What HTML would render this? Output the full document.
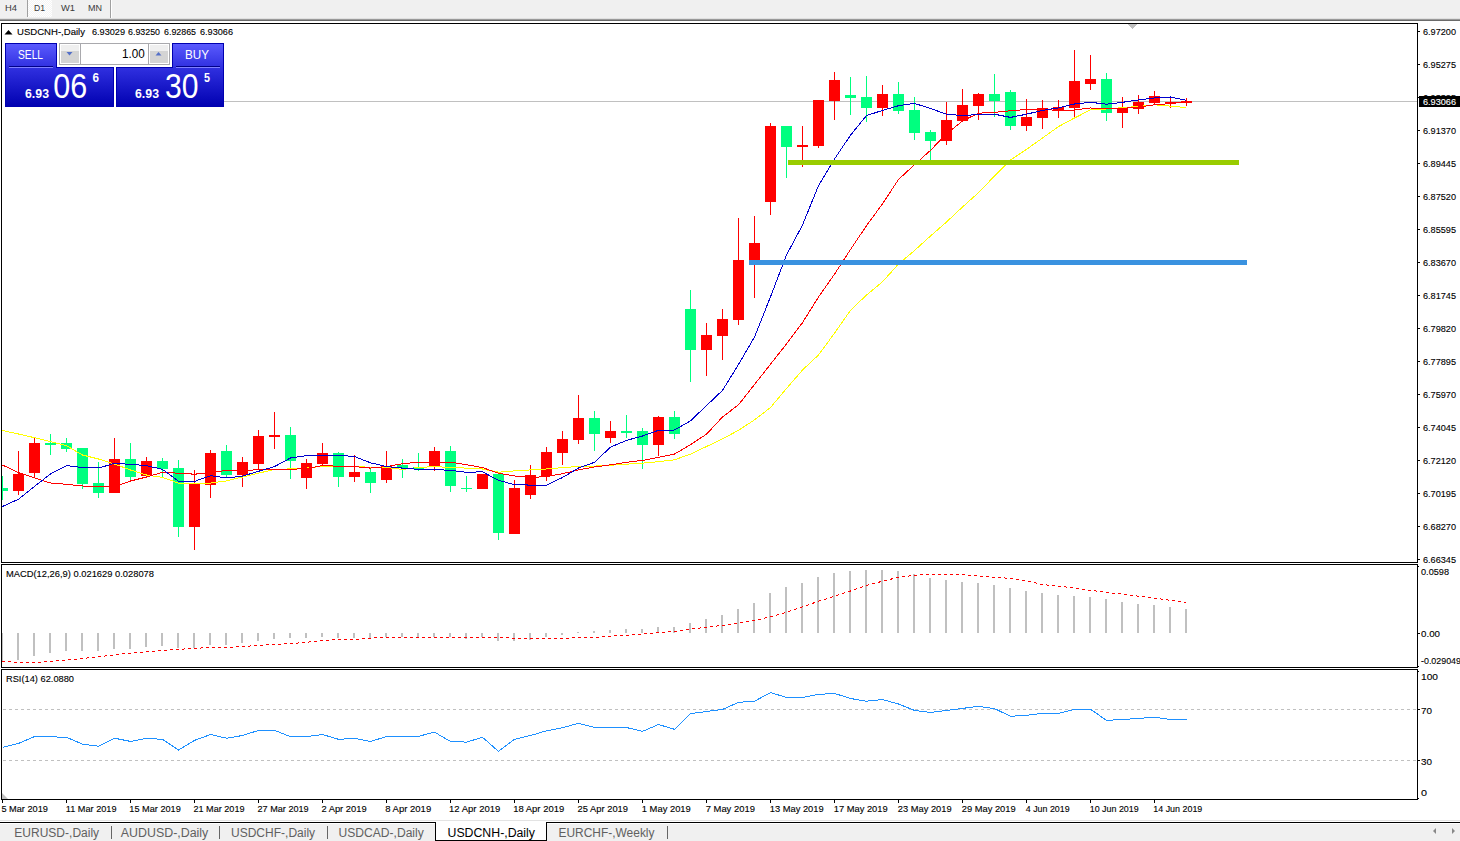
<!DOCTYPE html><html><head><meta charset="utf-8"><style>html,body{margin:0;padding:0;background:#fff;overflow:hidden;width:1460px;height:841px}svg{display:block}text{font-family:"Liberation Sans", sans-serif;white-space:pre}</style></head><body>
<svg width="1460" height="841" viewBox="0 0 1460 841">
<defs><pattern id="dots" width="2" height="2" patternUnits="userSpaceOnUse"><rect width="2" height="2" fill="#f4f4f4"/><rect width="1" height="1" fill="#ffffff"/><rect x="1" y="1" width="1" height="1" fill="#ffffff"/></pattern><linearGradient id="bg" x1="0" y1="43" x2="0" y2="107" gradientUnits="userSpaceOnUse"><stop offset="0" stop-color="#5c5cff"/><stop offset="0.38" stop-color="#3030e0"/><stop offset="1" stop-color="#0000b0"/></linearGradient><linearGradient id="btn" x1="0" y1="0" x2="0" y2="1"><stop offset="0" stop-color="#f4f4f4"/><stop offset="0.45" stop-color="#e6e6e6"/><stop offset="0.5" stop-color="#d8d8d8"/><stop offset="1" stop-color="#cdcdcd"/></linearGradient></defs>
<rect x="0" y="0" width="1460" height="841" fill="#fff"/>
<g shape-rendering="crispEdges">
<rect x="0" y="0" width="1460" height="19" fill="#f0f0f0"/>
<rect x="28" y="0" width="24" height="17" fill="url(#dots)"/>
<rect x="27" y="0" width="1" height="17" fill="#a0a0a0"/>
<rect x="110" y="0" width="1" height="18" fill="#a0a0a0"/><rect x="111" y="0" width="1" height="18" fill="#ffffff"/>
<rect x="0" y="18" width="1460" height="1" fill="#e0e0e0"/>
<rect x="0" y="19" width="1460" height="1" fill="#999999"/>
<rect x="0" y="20" width="1460" height="1" fill="#6a6a6a"/>
</g>
<text x="5" y="11" font-size="9.7" fill="#3a3a3a" font-weight="normal" text-anchor="start" textLength="12" lengthAdjust="spacingAndGlyphs">H4</text>
<text x="34" y="11" font-size="9.7" fill="#3a3a3a" font-weight="normal" text-anchor="start" textLength="11" lengthAdjust="spacingAndGlyphs">D1</text>
<text x="61" y="11" font-size="9.7" fill="#3a3a3a" font-weight="normal" text-anchor="start" textLength="14" lengthAdjust="spacingAndGlyphs">W1</text>
<text x="88" y="11" font-size="9.7" fill="#3a3a3a" font-weight="normal" text-anchor="start" textLength="14" lengthAdjust="spacingAndGlyphs">MN</text>
<g shape-rendering="crispEdges" fill="#000">
<rect x="1" y="23" width="1417" height="1"/>
<rect x="1" y="562" width="1417" height="1"/>
<rect x="1" y="23" width="1" height="540"/>
<rect x="1417" y="23" width="1" height="540"/>
<rect x="1" y="564" width="1417" height="1"/>
<rect x="1" y="667" width="1417" height="1"/>
<rect x="1" y="564" width="1" height="104"/>
<rect x="1417" y="564" width="1" height="104"/>
<rect x="1" y="669" width="1417" height="1"/>
<rect x="1" y="799" width="1417" height="1"/>
<rect x="1" y="669" width="1" height="131"/>
<rect x="1417" y="669" width="1" height="131"/>
</g>
<g shape-rendering="crispEdges">
<rect x="224" y="101" width="1193" height="1" fill="#c0c0c0"/>
<polygon points="1127.5,24 1137.5,24 1132.5,29" fill="#c0c0c0"/>
<rect x="2" y="476" width="1" height="24" fill="#00ff7f"/>
<rect x="2" y="488" width="6" height="3" fill="#00ff7f"/>
<rect x="18" y="451" width="1" height="44" fill="#ff0000"/>
<rect x="13" y="474" width="11" height="17" fill="#ff0000"/>
<rect x="34" y="438" width="1" height="40" fill="#ff0000"/>
<rect x="29" y="443" width="11" height="30" fill="#ff0000"/>
<rect x="50" y="434" width="1" height="21" fill="#00ff7f"/>
<rect x="45" y="443" width="11" height="2" fill="#00ff7f"/>
<rect x="66" y="438" width="1" height="14" fill="#00ff7f"/>
<rect x="61" y="443" width="11" height="6" fill="#00ff7f"/>
<rect x="82" y="448" width="1" height="41" fill="#00ff7f"/>
<rect x="77" y="448" width="11" height="36" fill="#00ff7f"/>
<rect x="98" y="462" width="1" height="36" fill="#00ff7f"/>
<rect x="93" y="483" width="11" height="10" fill="#00ff7f"/>
<rect x="114" y="438" width="1" height="55" fill="#ff0000"/>
<rect x="109" y="459" width="11" height="34" fill="#ff0000"/>
<rect x="130" y="443" width="1" height="38" fill="#00ff7f"/>
<rect x="125" y="459" width="11" height="18" fill="#00ff7f"/>
<rect x="146" y="457" width="1" height="20" fill="#ff0000"/>
<rect x="141" y="461" width="11" height="15" fill="#ff0000"/>
<rect x="162" y="458" width="1" height="20" fill="#00ff7f"/>
<rect x="157" y="461" width="11" height="8" fill="#00ff7f"/>
<rect x="178" y="460" width="1" height="77" fill="#00ff7f"/>
<rect x="173" y="468" width="11" height="59" fill="#00ff7f"/>
<rect x="194" y="470" width="1" height="80" fill="#ff0000"/>
<rect x="189" y="484" width="11" height="43" fill="#ff0000"/>
<rect x="210" y="450" width="1" height="48" fill="#ff0000"/>
<rect x="205" y="453" width="11" height="32" fill="#ff0000"/>
<rect x="226" y="445" width="1" height="33" fill="#00ff7f"/>
<rect x="221" y="451" width="11" height="24" fill="#00ff7f"/>
<rect x="242" y="457" width="1" height="30" fill="#ff0000"/>
<rect x="237" y="462" width="11" height="13" fill="#ff0000"/>
<rect x="258" y="430" width="1" height="40" fill="#ff0000"/>
<rect x="253" y="436" width="11" height="28" fill="#ff0000"/>
<rect x="274" y="412" width="1" height="37" fill="#ff0000"/>
<rect x="269" y="435" width="11" height="2" fill="#ff0000"/>
<rect x="290" y="427" width="1" height="52" fill="#00ff7f"/>
<rect x="285" y="435" width="11" height="26" fill="#00ff7f"/>
<rect x="306" y="459" width="1" height="30" fill="#ff0000"/>
<rect x="301" y="463" width="11" height="15" fill="#ff0000"/>
<rect x="322" y="443" width="1" height="23" fill="#ff0000"/>
<rect x="317" y="453" width="11" height="11" fill="#ff0000"/>
<rect x="338" y="452" width="1" height="35" fill="#00ff7f"/>
<rect x="333" y="453" width="11" height="24" fill="#00ff7f"/>
<rect x="354" y="455" width="1" height="27" fill="#ff0000"/>
<rect x="349" y="472" width="11" height="5" fill="#ff0000"/>
<rect x="370" y="469" width="1" height="24" fill="#00ff7f"/>
<rect x="365" y="472" width="11" height="11" fill="#00ff7f"/>
<rect x="386" y="451" width="1" height="32" fill="#ff0000"/>
<rect x="381" y="466" width="11" height="14" fill="#ff0000"/>
<rect x="402" y="459" width="1" height="19" fill="#00ff7f"/>
<rect x="397" y="465" width="11" height="3" fill="#00ff7f"/>
<rect x="418" y="453" width="1" height="18" fill="#00ff7f"/>
<rect x="413" y="467" width="11" height="2" fill="#00ff7f"/>
<rect x="434" y="447" width="1" height="24" fill="#ff0000"/>
<rect x="429" y="451" width="11" height="16" fill="#ff0000"/>
<rect x="450" y="446" width="1" height="46" fill="#00ff7f"/>
<rect x="445" y="451" width="11" height="35" fill="#00ff7f"/>
<rect x="466" y="476" width="1" height="16" fill="#00ff7f"/>
<rect x="461" y="488" width="11" height="1" fill="#00ff7f"/>
<rect x="482" y="474" width="1" height="15" fill="#ff0000"/>
<rect x="477" y="474" width="11" height="15" fill="#ff0000"/>
<rect x="498" y="474" width="1" height="66" fill="#00ff7f"/>
<rect x="493" y="474" width="11" height="59" fill="#00ff7f"/>
<rect x="514" y="480" width="1" height="54" fill="#ff0000"/>
<rect x="509" y="488" width="11" height="46" fill="#ff0000"/>
<rect x="530" y="465" width="1" height="34" fill="#ff0000"/>
<rect x="525" y="475" width="11" height="20" fill="#ff0000"/>
<rect x="546" y="447" width="1" height="34" fill="#ff0000"/>
<rect x="541" y="452" width="11" height="24" fill="#ff0000"/>
<rect x="562" y="431" width="1" height="34" fill="#ff0000"/>
<rect x="557" y="439" width="11" height="14" fill="#ff0000"/>
<rect x="578" y="395" width="1" height="49" fill="#ff0000"/>
<rect x="573" y="418" width="11" height="22" fill="#ff0000"/>
<rect x="594" y="411" width="1" height="40" fill="#00ff7f"/>
<rect x="589" y="418" width="11" height="16" fill="#00ff7f"/>
<rect x="610" y="421" width="1" height="22" fill="#ff0000"/>
<rect x="605" y="431" width="11" height="7" fill="#ff0000"/>
<rect x="626" y="415" width="1" height="23" fill="#00ff7f"/>
<rect x="621" y="431" width="11" height="2" fill="#00ff7f"/>
<rect x="642" y="428" width="1" height="41" fill="#00ff7f"/>
<rect x="637" y="431" width="11" height="14" fill="#00ff7f"/>
<rect x="658" y="416" width="1" height="40" fill="#ff0000"/>
<rect x="653" y="417" width="11" height="28" fill="#ff0000"/>
<rect x="674" y="411" width="1" height="28" fill="#00ff7f"/>
<rect x="669" y="417" width="11" height="17" fill="#00ff7f"/>
<rect x="690" y="290" width="1" height="92" fill="#00ff7f"/>
<rect x="685" y="309" width="11" height="41" fill="#00ff7f"/>
<rect x="706" y="323" width="1" height="53" fill="#ff0000"/>
<rect x="701" y="335" width="11" height="15" fill="#ff0000"/>
<rect x="722" y="309" width="1" height="51" fill="#ff0000"/>
<rect x="717" y="319" width="11" height="17" fill="#ff0000"/>
<rect x="738" y="218" width="1" height="107" fill="#ff0000"/>
<rect x="733" y="260" width="11" height="60" fill="#ff0000"/>
<rect x="754" y="216" width="1" height="82" fill="#ff0000"/>
<rect x="749" y="243" width="11" height="17" fill="#ff0000"/>
<rect x="770" y="123" width="1" height="92" fill="#ff0000"/>
<rect x="765" y="126" width="11" height="76" fill="#ff0000"/>
<rect x="786" y="126" width="1" height="52" fill="#00ff7f"/>
<rect x="781" y="126" width="11" height="21" fill="#00ff7f"/>
<rect x="802" y="126" width="1" height="41" fill="#ff0000"/>
<rect x="797" y="145" width="11" height="2" fill="#ff0000"/>
<rect x="818" y="100" width="1" height="48" fill="#ff0000"/>
<rect x="813" y="100" width="11" height="46" fill="#ff0000"/>
<rect x="834" y="72" width="1" height="48" fill="#ff0000"/>
<rect x="829" y="80" width="11" height="21" fill="#ff0000"/>
<rect x="850" y="77" width="1" height="38" fill="#00ff7f"/>
<rect x="845" y="95" width="11" height="3" fill="#00ff7f"/>
<rect x="866" y="76" width="1" height="46" fill="#00ff7f"/>
<rect x="861" y="97" width="11" height="11" fill="#00ff7f"/>
<rect x="882" y="85" width="1" height="31" fill="#ff0000"/>
<rect x="877" y="94" width="11" height="14" fill="#ff0000"/>
<rect x="898" y="82" width="1" height="32" fill="#00ff7f"/>
<rect x="893" y="94" width="11" height="17" fill="#00ff7f"/>
<rect x="914" y="97" width="1" height="43" fill="#00ff7f"/>
<rect x="909" y="110" width="11" height="23" fill="#00ff7f"/>
<rect x="930" y="130" width="1" height="30" fill="#00ff7f"/>
<rect x="925" y="132" width="11" height="9" fill="#00ff7f"/>
<rect x="946" y="102" width="1" height="43" fill="#ff0000"/>
<rect x="941" y="120" width="11" height="21" fill="#ff0000"/>
<rect x="962" y="89" width="1" height="32" fill="#ff0000"/>
<rect x="957" y="105" width="11" height="16" fill="#ff0000"/>
<rect x="978" y="93" width="1" height="27" fill="#ff0000"/>
<rect x="973" y="94" width="11" height="12" fill="#ff0000"/>
<rect x="994" y="74" width="1" height="43" fill="#00ff7f"/>
<rect x="989" y="94" width="11" height="7" fill="#00ff7f"/>
<rect x="1010" y="90" width="1" height="40" fill="#00ff7f"/>
<rect x="1005" y="92" width="11" height="34" fill="#00ff7f"/>
<rect x="1026" y="99" width="1" height="32" fill="#ff0000"/>
<rect x="1021" y="117" width="11" height="9" fill="#ff0000"/>
<rect x="1042" y="100" width="1" height="29" fill="#ff0000"/>
<rect x="1037" y="108" width="11" height="10" fill="#ff0000"/>
<rect x="1058" y="100" width="1" height="18" fill="#ff0000"/>
<rect x="1053" y="107" width="11" height="4" fill="#ff0000"/>
<rect x="1074" y="50" width="1" height="68" fill="#ff0000"/>
<rect x="1069" y="81" width="11" height="27" fill="#ff0000"/>
<rect x="1090" y="55" width="1" height="35" fill="#ff0000"/>
<rect x="1085" y="79" width="11" height="5" fill="#ff0000"/>
<rect x="1106" y="73" width="1" height="48" fill="#00ff7f"/>
<rect x="1101" y="79" width="11" height="34" fill="#00ff7f"/>
<rect x="1122" y="97" width="1" height="31" fill="#ff0000"/>
<rect x="1117" y="108" width="11" height="5" fill="#ff0000"/>
<rect x="1138" y="95" width="1" height="19" fill="#ff0000"/>
<rect x="1133" y="102" width="11" height="7" fill="#ff0000"/>
<rect x="1154" y="91" width="1" height="14" fill="#ff0000"/>
<rect x="1149" y="96" width="11" height="7" fill="#ff0000"/>
<rect x="1170" y="97" width="1" height="11" fill="#ff0000"/>
<rect x="1165" y="102" width="11" height="1" fill="#ff0000"/>
<rect x="1186" y="98" width="1" height="8" fill="#ff0000"/>
<rect x="1181" y="101" width="11" height="2" fill="#ff0000"/>
</g>
<svg x="2" y="24" width="1415" height="538" viewBox="2 24 1415 538" overflow="hidden">
<polyline points="2.5,430.5 18.5,434 34.5,437.7 50.5,441.6 66.5,445.7 82.5,455 98.5,459 114.5,464 130.5,470 146.5,475 162.5,477.4 178.5,483.1 194.5,483.1 210.5,483.1 226.5,480.9 242.5,477 258.5,473.2 274.5,469.4 290.5,468.9 306.5,468.1 322.5,466.2 338.5,466 354.5,466 370.5,467.5 386.5,467.5 402.5,469.4 418.5,467.5 434.5,466.6 450.5,467.5 466.5,468.1 482.5,469 498.5,472.2 514.5,470.9 530.5,469.9 546.5,469 562.5,467.6 578.5,466.5 594.5,466.1 610.5,465.2 626.5,464.2 642.5,463.1 658.5,461.7 674.5,459.8 690.5,454.1 706.5,446.5 722.5,438.9 738.5,430.3 754.5,419.9 770.5,407.5 786.5,388.5 802.5,370 818.5,355 834.5,333.2 850.5,310.3 866.5,295 882.5,281.8 898.5,264 914.5,250.5 930.5,236 946.5,222 962.5,207 978.5,192.7 994.5,176 1010.5,160 1026.5,149.4 1042.5,138 1058.5,126.6 1074.5,118 1090.5,109.9 1106.5,109 1122.5,107.6 1138.5,106.5 1154.5,104.8 1170.5,106.1 1186.5,107.6" fill="none" stroke="#ffff00" stroke-width="1" shape-rendering="crispEdges"/>
<polyline points="2.5,465 18.5,472.7 34.5,477.9 50.5,483 66.5,484.3 82.5,486 98.5,487 114.5,486.6 130.5,481 146.5,477 162.5,472.3 178.5,473.2 194.5,474.2 210.5,472.7 226.5,470.4 242.5,470.4 258.5,469.8 274.5,469.4 290.5,469.4 306.5,468.5 322.5,465.6 338.5,466.2 354.5,466.6 370.5,468.1 386.5,466.6 402.5,463.7 418.5,462.2 434.5,462.2 450.5,462.2 466.5,464.7 482.5,467.6 498.5,473.3 514.5,476 530.5,477.5 546.5,476.6 562.5,473.7 578.5,469.9 594.5,467 610.5,464.8 626.5,462.3 642.5,460.4 658.5,457.4 674.5,454.1 690.5,444.6 706.5,434.2 722.5,417 738.5,404.8 754.5,384.5 770.5,364.2 786.5,343.9 802.5,322.7 818.5,297 834.5,274.2 850.5,249.5 866.5,225.7 882.5,203.8 898.5,179.5 914.5,164.7 930.5,150.3 946.5,134 962.5,120.9 978.5,113.2 994.5,112.3 1010.5,110.8 1026.5,109.4 1042.5,108.9 1058.5,110.8 1074.5,110 1090.5,108 1106.5,109 1122.5,108.4 1138.5,107 1154.5,104.8 1170.5,103.6 1186.5,101.9" fill="none" stroke="#ff0000" stroke-width="1" shape-rendering="crispEdges"/>
<polyline points="2.5,506.5 18.5,499.2 34.5,486.4 50.5,474 66.5,465.6 82.5,467.5 98.5,468 114.5,463.4 130.5,464.3 146.5,465.6 162.5,469.4 178.5,481.2 194.5,481.4 210.5,475.7 226.5,478 242.5,476.1 258.5,471.3 274.5,466.6 290.5,458 306.5,455.6 322.5,455.6 338.5,455.2 354.5,456.5 370.5,462.8 386.5,466.6 402.5,468.1 418.5,469.4 434.5,469.4 450.5,470.4 466.5,472.3 482.5,471.8 498.5,480.4 514.5,484.6 530.5,485.1 546.5,485.1 562.5,477.5 578.5,468 594.5,462.3 610.5,447.1 626.5,440.4 642.5,436 658.5,430.3 674.5,430 690.5,420.8 706.5,405.6 722.5,390.4 738.5,364.5 754.5,337 770.5,296.8 786.5,255 802.5,225 818.5,185.6 834.5,159 850.5,135.2 866.5,115.6 882.5,110.4 898.5,105.7 914.5,103.4 930.5,108.5 946.5,114.2 962.5,115.5 978.5,114.6 994.5,114.2 1010.5,117.4 1026.5,114.2 1042.5,110.4 1058.5,107.9 1074.5,104 1090.5,102.3 1106.5,104.2 1122.5,102.3 1138.5,100 1154.5,97.9 1170.5,97 1186.5,100.4" fill="none" stroke="#0000cd" stroke-width="1" shape-rendering="crispEdges"/>
</svg>
<g shape-rendering="crispEdges">
<rect x="788" y="160" width="451" height="5" fill="#99cc00"/>
<rect x="749" y="260" width="498" height="5" fill="#3a92e0"/>
</g>
<polygon points="4.5,34.5 12.5,34.5 8.5,30" fill="#000"/>
<text x="17" y="35" font-size="9.8" fill="#000" font-weight="normal" text-anchor="start" textLength="68" lengthAdjust="spacingAndGlyphs" stroke="#000" stroke-width="0.12">USDCNH-,Daily</text>
<text x="92" y="35" font-size="9.6" fill="#000" font-weight="normal" text-anchor="start" textLength="33" lengthAdjust="spacingAndGlyphs" stroke="#000" stroke-width="0.12">6.93029</text>
<text x="128" y="35" font-size="9.6" fill="#000" font-weight="normal" text-anchor="start" textLength="32" lengthAdjust="spacingAndGlyphs" stroke="#000" stroke-width="0.12">6.93250</text>
<text x="164" y="35" font-size="9.6" fill="#000" font-weight="normal" text-anchor="start" textLength="32" lengthAdjust="spacingAndGlyphs" stroke="#000" stroke-width="0.12">6.92865</text>
<text x="200" y="35" font-size="9.6" fill="#000" font-weight="normal" text-anchor="start" textLength="33" lengthAdjust="spacingAndGlyphs" stroke="#000" stroke-width="0.12">6.93066</text>
<g shape-rendering="crispEdges">
<rect x="5" y="43" width="52" height="24" fill="#0000b0"/><rect x="5" y="67" width="109" height="40" fill="#0000b0"/>
<rect x="6" y="44" width="50" height="24" fill="url(#bg)"/><rect x="6" y="68" width="107" height="38" fill="url(#bg)"/>
<rect x="172" y="43" width="52" height="24" fill="#0000b0"/><rect x="116" y="67" width="108" height="40" fill="#0000b0"/>
<rect x="173" y="44" width="50" height="24" fill="url(#bg)"/><rect x="117" y="68" width="106" height="38" fill="url(#bg)"/>
<rect x="9" y="66" width="44" height="1" fill="#000088"/><rect x="9" y="67" width="44" height="1" fill="#8080ff"/>
<rect x="176" y="66" width="44" height="1" fill="#000088"/><rect x="176" y="67" width="44" height="1" fill="#8080ff"/>
<rect x="59" y="43" width="111" height="22" fill="#a9a9ad"/>
<rect x="60" y="44" width="109" height="20" fill="#ffffff"/>
<rect x="80" y="44" width="1" height="20" fill="#a9a9ad"/><rect x="148" y="44" width="1" height="20" fill="#a9a9ad"/>
<rect x="61" y="45" width="18" height="6" fill="#efefef"/><rect x="61" y="51" width="18" height="12" fill="#d4d4d4"/>
<rect x="150" y="45" width="18" height="6" fill="#efefef"/><rect x="150" y="51" width="18" height="12" fill="#d4d4d4"/>
</g>
<polygon points="66.5,52 72.5,52 69.5,55.5" fill="#5470c8"/>
<polygon points="155.5,55.5 161.5,55.5 158.5,52" fill="#5470c8"/>
<text x="122" y="58" font-size="12" fill="#000" font-weight="normal" text-anchor="start" textLength="22.7" lengthAdjust="spacingAndGlyphs">1.00</text>
<text x="18" y="59" font-size="12" fill="#fff" font-weight="normal" text-anchor="start" textLength="25" lengthAdjust="spacingAndGlyphs">SELL</text>
<text x="185" y="59" font-size="12" fill="#fff" font-weight="normal" text-anchor="start" textLength="24" lengthAdjust="spacingAndGlyphs">BUY</text>
<text x="25" y="98" font-size="12" fill="#fff" font-weight="bold" text-anchor="start" textLength="24" lengthAdjust="spacingAndGlyphs">6.93</text>
<text x="53.3" y="98.3" font-size="34.8" fill="#fff" font-weight="normal" text-anchor="start" textLength="34" lengthAdjust="spacingAndGlyphs">06</text>
<text x="92.5" y="82" font-size="12" fill="#fff" font-weight="bold" text-anchor="start" textLength="6.5" lengthAdjust="spacingAndGlyphs">6</text>
<text x="135" y="98" font-size="12" fill="#fff" font-weight="bold" text-anchor="start" textLength="24" lengthAdjust="spacingAndGlyphs">6.93</text>
<text x="165" y="98.3" font-size="34.8" fill="#fff" font-weight="normal" text-anchor="start" textLength="33.5" lengthAdjust="spacingAndGlyphs">30</text>
<text x="204" y="82" font-size="12" fill="#fff" font-weight="bold" text-anchor="start" textLength="6" lengthAdjust="spacingAndGlyphs">5</text>
<g shape-rendering="crispEdges" fill="#000">
<rect x="1418" y="31" width="2" height="1"/>
<rect x="1418" y="64" width="2" height="1"/>
<rect x="1418" y="97" width="2" height="1"/>
<rect x="1418" y="130" width="2" height="1"/>
<rect x="1418" y="163" width="2" height="1"/>
<rect x="1418" y="196" width="2" height="1"/>
<rect x="1418" y="229" width="2" height="1"/>
<rect x="1418" y="262" width="2" height="1"/>
<rect x="1418" y="295" width="2" height="1"/>
<rect x="1418" y="328" width="2" height="1"/>
<rect x="1418" y="361" width="2" height="1"/>
<rect x="1418" y="394" width="2" height="1"/>
<rect x="1418" y="427" width="2" height="1"/>
<rect x="1418" y="460" width="2" height="1"/>
<rect x="1418" y="493" width="2" height="1"/>
<rect x="1418" y="526" width="2" height="1"/>
<rect x="1418" y="559" width="2" height="1"/>
</g>
<text x="1423" y="34.5" font-size="9.6" fill="#000" font-weight="normal" text-anchor="start" textLength="33" lengthAdjust="spacingAndGlyphs" stroke="#000" stroke-width="0.12">6.97200</text>
<text x="1423" y="67.5" font-size="9.6" fill="#000" font-weight="normal" text-anchor="start" textLength="33" lengthAdjust="spacingAndGlyphs" stroke="#000" stroke-width="0.12">6.95275</text>
<text x="1423" y="100.5" font-size="9.6" fill="#000" font-weight="normal" text-anchor="start" textLength="33" lengthAdjust="spacingAndGlyphs" stroke="#000" stroke-width="0.12">6.93325</text>
<text x="1423" y="133.5" font-size="9.6" fill="#000" font-weight="normal" text-anchor="start" textLength="33" lengthAdjust="spacingAndGlyphs" stroke="#000" stroke-width="0.12">6.91370</text>
<text x="1423" y="166.5" font-size="9.6" fill="#000" font-weight="normal" text-anchor="start" textLength="33" lengthAdjust="spacingAndGlyphs" stroke="#000" stroke-width="0.12">6.89445</text>
<text x="1423" y="199.5" font-size="9.6" fill="#000" font-weight="normal" text-anchor="start" textLength="33" lengthAdjust="spacingAndGlyphs" stroke="#000" stroke-width="0.12">6.87520</text>
<text x="1423" y="232.5" font-size="9.6" fill="#000" font-weight="normal" text-anchor="start" textLength="33" lengthAdjust="spacingAndGlyphs" stroke="#000" stroke-width="0.12">6.85595</text>
<text x="1423" y="265.5" font-size="9.6" fill="#000" font-weight="normal" text-anchor="start" textLength="33" lengthAdjust="spacingAndGlyphs" stroke="#000" stroke-width="0.12">6.83670</text>
<text x="1423" y="298.5" font-size="9.6" fill="#000" font-weight="normal" text-anchor="start" textLength="33" lengthAdjust="spacingAndGlyphs" stroke="#000" stroke-width="0.12">6.81745</text>
<text x="1423" y="331.5" font-size="9.6" fill="#000" font-weight="normal" text-anchor="start" textLength="33" lengthAdjust="spacingAndGlyphs" stroke="#000" stroke-width="0.12">6.79820</text>
<text x="1423" y="364.5" font-size="9.6" fill="#000" font-weight="normal" text-anchor="start" textLength="33" lengthAdjust="spacingAndGlyphs" stroke="#000" stroke-width="0.12">6.77895</text>
<text x="1423" y="397.5" font-size="9.6" fill="#000" font-weight="normal" text-anchor="start" textLength="33" lengthAdjust="spacingAndGlyphs" stroke="#000" stroke-width="0.12">6.75970</text>
<text x="1423" y="430.5" font-size="9.6" fill="#000" font-weight="normal" text-anchor="start" textLength="33" lengthAdjust="spacingAndGlyphs" stroke="#000" stroke-width="0.12">6.74045</text>
<text x="1423" y="463.5" font-size="9.6" fill="#000" font-weight="normal" text-anchor="start" textLength="33" lengthAdjust="spacingAndGlyphs" stroke="#000" stroke-width="0.12">6.72120</text>
<text x="1423" y="496.5" font-size="9.6" fill="#000" font-weight="normal" text-anchor="start" textLength="33" lengthAdjust="spacingAndGlyphs" stroke="#000" stroke-width="0.12">6.70195</text>
<text x="1423" y="529.5" font-size="9.6" fill="#000" font-weight="normal" text-anchor="start" textLength="33" lengthAdjust="spacingAndGlyphs" stroke="#000" stroke-width="0.12">6.68270</text>
<text x="1423" y="562.5" font-size="9.6" fill="#000" font-weight="normal" text-anchor="start" textLength="33" lengthAdjust="spacingAndGlyphs" stroke="#000" stroke-width="0.12">6.66345</text>
<rect x="1419" y="96" width="41" height="11" fill="#000" shape-rendering="crispEdges"/>
<text x="1423" y="105" font-size="9.6" fill="#fff" font-weight="normal" text-anchor="start" textLength="33" lengthAdjust="spacingAndGlyphs" stroke="#fff" stroke-width="0.12">6.93066</text>
<text x="6" y="577" font-size="9.6" fill="#000" font-weight="normal" text-anchor="start" textLength="148" lengthAdjust="spacingAndGlyphs" stroke="#000" stroke-width="0.12">MACD(12,26,9) 0.021629 0.028078</text>
<svg x="2" y="565" width="1415" height="102" viewBox="2 565 1415 102" overflow="hidden">
<g shape-rendering="crispEdges" fill="#c0c0c0">
<rect x="1" y="633" width="2" height="28"/>
<rect x="17" y="633" width="2" height="27"/>
<rect x="33" y="633" width="2" height="23"/>
<rect x="49" y="633" width="2" height="20"/>
<rect x="65" y="633" width="2" height="18"/>
<rect x="81" y="633" width="2" height="18"/>
<rect x="97" y="633" width="2" height="18"/>
<rect x="113" y="633" width="2" height="16"/>
<rect x="129" y="633" width="2" height="16"/>
<rect x="145" y="633" width="2" height="14"/>
<rect x="161" y="633" width="2" height="13"/>
<rect x="177" y="633" width="2" height="15"/>
<rect x="193" y="633" width="2" height="15"/>
<rect x="209" y="633" width="2" height="12"/>
<rect x="225" y="633" width="2" height="12"/>
<rect x="241" y="633" width="2" height="10"/>
<rect x="257" y="633" width="2" height="8"/>
<rect x="273" y="633" width="2" height="6"/>
<rect x="289" y="633" width="2" height="5"/>
<rect x="305" y="633" width="2" height="5"/>
<rect x="321" y="633" width="2" height="4"/>
<rect x="337" y="633" width="2" height="5"/>
<rect x="353" y="633" width="2" height="5"/>
<rect x="369" y="633" width="2" height="5"/>
<rect x="385" y="633" width="2" height="4"/>
<rect x="401" y="633" width="2" height="4"/>
<rect x="417" y="633" width="2" height="4"/>
<rect x="433" y="633" width="2" height="4"/>
<rect x="449" y="633" width="2" height="4"/>
<rect x="465" y="633" width="2" height="6"/>
<rect x="481" y="633" width="2" height="4"/>
<rect x="497" y="633" width="2" height="8"/>
<rect x="513" y="633" width="2" height="8"/>
<rect x="529" y="633" width="2" height="7"/>
<rect x="545" y="633" width="2" height="4"/>
<rect x="561" y="633" width="2" height="2"/>
<rect x="577" y="632" width="2" height="1"/>
<rect x="593" y="631" width="2" height="2"/>
<rect x="609" y="630" width="2" height="3"/>
<rect x="625" y="629" width="2" height="4"/>
<rect x="641" y="629" width="2" height="4"/>
<rect x="657" y="627" width="2" height="6"/>
<rect x="673" y="627" width="2" height="6"/>
<rect x="689" y="623" width="2" height="10"/>
<rect x="705" y="619" width="2" height="14"/>
<rect x="721" y="615" width="2" height="18"/>
<rect x="737" y="609" width="2" height="24"/>
<rect x="753" y="603" width="2" height="30"/>
<rect x="769" y="593" width="2" height="40"/>
<rect x="785" y="587" width="2" height="46"/>
<rect x="801" y="583" width="2" height="50"/>
<rect x="817" y="577" width="2" height="56"/>
<rect x="833" y="573" width="2" height="60"/>
<rect x="849" y="571" width="2" height="62"/>
<rect x="865" y="570" width="2" height="63"/>
<rect x="881" y="570" width="2" height="63"/>
<rect x="897" y="571" width="2" height="62"/>
<rect x="913" y="574" width="2" height="59"/>
<rect x="929" y="578" width="2" height="55"/>
<rect x="945" y="580" width="2" height="53"/>
<rect x="961" y="582" width="2" height="51"/>
<rect x="977" y="583" width="2" height="50"/>
<rect x="993" y="585" width="2" height="48"/>
<rect x="1009" y="588" width="2" height="45"/>
<rect x="1025" y="591" width="2" height="42"/>
<rect x="1041" y="593" width="2" height="40"/>
<rect x="1057" y="595" width="2" height="38"/>
<rect x="1073" y="596" width="2" height="37"/>
<rect x="1089" y="597" width="2" height="36"/>
<rect x="1105" y="599" width="2" height="34"/>
<rect x="1121" y="602" width="2" height="31"/>
<rect x="1137" y="604" width="2" height="29"/>
<rect x="1153" y="605" width="2" height="28"/>
<rect x="1169" y="607" width="2" height="26"/>
<rect x="1185" y="609" width="2" height="24"/>
</g>
<defs><pattern id="dash6" x="2" y="0" width="6" height="841" patternUnits="userSpaceOnUse"><rect x="0" y="0" width="3" height="841" fill="#fff"/></pattern><mask id="dmask" maskUnits="userSpaceOnUse" x="0" y="0" width="1460" height="841"><rect x="0" y="0" width="1460" height="841" fill="url(#dash6)"/></mask></defs>
<polyline points="2.5,661.4 18.5,662.3 34.5,662.3 50.5,661.6 66.5,659.9 82.5,658.5 98.5,656.8 114.5,654.8 130.5,653.2 146.5,651.8 162.5,650.4 178.5,649.3 194.5,648.4 210.5,647.4 226.5,647.4 242.5,646.7 258.5,645.3 274.5,644.4 290.5,643.6 306.5,642.3 322.5,640.5 338.5,639.5 354.5,639.5 370.5,638.2 386.5,637.4 402.5,637.4 418.5,637.4 434.5,637.4 450.5,637.4 466.5,637.4 482.5,637.4 498.5,637.4 514.5,638.2 530.5,638.2 546.5,638.2 562.5,638.2 578.5,637.8 594.5,637.3 610.5,636.2 626.5,635.3 642.5,634.2 658.5,632.4 674.5,631.4 690.5,629 706.5,627.3 722.5,625.3 738.5,623.2 754.5,620.5 770.5,616.8 786.5,612.3 802.5,606.8 818.5,601.3 834.5,596.2 850.5,591 866.5,585.5 882.5,581.2 898.5,577.3 914.5,575.3 930.5,574.3 946.5,574.3 962.5,574.6 978.5,576.2 994.5,577.3 1010.5,578.4 1026.5,580.8 1042.5,584.5 1058.5,586.2 1074.5,588 1090.5,590.3 1106.5,592.4 1122.5,594.2 1138.5,596.2 1154.5,598.2 1170.5,600.3 1186.5,602.3" fill="none" stroke="#ff0000" stroke-width="1" shape-rendering="crispEdges" mask="url(#dmask)"/>
</svg>
<g shape-rendering="crispEdges" fill="#000"><rect x="1418" y="566" width="1" height="1"/><rect x="1418" y="633" width="2" height="1"/><rect x="1418" y="666" width="1" height="1"/></g>
<text x="1421" y="575" font-size="9.6" fill="#000" font-weight="normal" text-anchor="start" textLength="28" lengthAdjust="spacingAndGlyphs" stroke="#000" stroke-width="0.12">0.0598</text>
<text x="1421" y="637" font-size="9.6" fill="#000" font-weight="normal" text-anchor="start" textLength="19" lengthAdjust="spacingAndGlyphs" stroke="#000" stroke-width="0.12">0.00</text>
<text x="1421" y="664" font-size="9.6" fill="#000" font-weight="normal" text-anchor="start" textLength="40" lengthAdjust="spacingAndGlyphs" stroke="#000" stroke-width="0.12">-0.029049</text>
<text x="6" y="682" font-size="9.6" fill="#000" font-weight="normal" text-anchor="start" textLength="68" lengthAdjust="spacingAndGlyphs" stroke="#000" stroke-width="0.12">RSI(14) 62.0880</text>
<g shape-rendering="crispEdges" fill="#c0c0c0">
<rect x="3" y="709" width="3" height="1"/>
<rect x="9" y="709" width="3" height="1"/>
<rect x="15" y="709" width="3" height="1"/>
<rect x="21" y="709" width="3" height="1"/>
<rect x="27" y="709" width="3" height="1"/>
<rect x="33" y="709" width="3" height="1"/>
<rect x="39" y="709" width="3" height="1"/>
<rect x="45" y="709" width="3" height="1"/>
<rect x="51" y="709" width="3" height="1"/>
<rect x="57" y="709" width="3" height="1"/>
<rect x="63" y="709" width="3" height="1"/>
<rect x="69" y="709" width="3" height="1"/>
<rect x="75" y="709" width="3" height="1"/>
<rect x="81" y="709" width="3" height="1"/>
<rect x="87" y="709" width="3" height="1"/>
<rect x="93" y="709" width="3" height="1"/>
<rect x="99" y="709" width="3" height="1"/>
<rect x="105" y="709" width="3" height="1"/>
<rect x="111" y="709" width="3" height="1"/>
<rect x="117" y="709" width="3" height="1"/>
<rect x="123" y="709" width="3" height="1"/>
<rect x="129" y="709" width="3" height="1"/>
<rect x="135" y="709" width="3" height="1"/>
<rect x="141" y="709" width="3" height="1"/>
<rect x="147" y="709" width="3" height="1"/>
<rect x="153" y="709" width="3" height="1"/>
<rect x="159" y="709" width="3" height="1"/>
<rect x="165" y="709" width="3" height="1"/>
<rect x="171" y="709" width="3" height="1"/>
<rect x="177" y="709" width="3" height="1"/>
<rect x="183" y="709" width="3" height="1"/>
<rect x="189" y="709" width="3" height="1"/>
<rect x="195" y="709" width="3" height="1"/>
<rect x="201" y="709" width="3" height="1"/>
<rect x="207" y="709" width="3" height="1"/>
<rect x="213" y="709" width="3" height="1"/>
<rect x="219" y="709" width="3" height="1"/>
<rect x="225" y="709" width="3" height="1"/>
<rect x="231" y="709" width="3" height="1"/>
<rect x="237" y="709" width="3" height="1"/>
<rect x="243" y="709" width="3" height="1"/>
<rect x="249" y="709" width="3" height="1"/>
<rect x="255" y="709" width="3" height="1"/>
<rect x="261" y="709" width="3" height="1"/>
<rect x="267" y="709" width="3" height="1"/>
<rect x="273" y="709" width="3" height="1"/>
<rect x="279" y="709" width="3" height="1"/>
<rect x="285" y="709" width="3" height="1"/>
<rect x="291" y="709" width="3" height="1"/>
<rect x="297" y="709" width="3" height="1"/>
<rect x="303" y="709" width="3" height="1"/>
<rect x="309" y="709" width="3" height="1"/>
<rect x="315" y="709" width="3" height="1"/>
<rect x="321" y="709" width="3" height="1"/>
<rect x="327" y="709" width="3" height="1"/>
<rect x="333" y="709" width="3" height="1"/>
<rect x="339" y="709" width="3" height="1"/>
<rect x="345" y="709" width="3" height="1"/>
<rect x="351" y="709" width="3" height="1"/>
<rect x="357" y="709" width="3" height="1"/>
<rect x="363" y="709" width="3" height="1"/>
<rect x="369" y="709" width="3" height="1"/>
<rect x="375" y="709" width="3" height="1"/>
<rect x="381" y="709" width="3" height="1"/>
<rect x="387" y="709" width="3" height="1"/>
<rect x="393" y="709" width="3" height="1"/>
<rect x="399" y="709" width="3" height="1"/>
<rect x="405" y="709" width="3" height="1"/>
<rect x="411" y="709" width="3" height="1"/>
<rect x="417" y="709" width="3" height="1"/>
<rect x="423" y="709" width="3" height="1"/>
<rect x="429" y="709" width="3" height="1"/>
<rect x="435" y="709" width="3" height="1"/>
<rect x="441" y="709" width="3" height="1"/>
<rect x="447" y="709" width="3" height="1"/>
<rect x="453" y="709" width="3" height="1"/>
<rect x="459" y="709" width="3" height="1"/>
<rect x="465" y="709" width="3" height="1"/>
<rect x="471" y="709" width="3" height="1"/>
<rect x="477" y="709" width="3" height="1"/>
<rect x="483" y="709" width="3" height="1"/>
<rect x="489" y="709" width="3" height="1"/>
<rect x="495" y="709" width="3" height="1"/>
<rect x="501" y="709" width="3" height="1"/>
<rect x="507" y="709" width="3" height="1"/>
<rect x="513" y="709" width="3" height="1"/>
<rect x="519" y="709" width="3" height="1"/>
<rect x="525" y="709" width="3" height="1"/>
<rect x="531" y="709" width="3" height="1"/>
<rect x="537" y="709" width="3" height="1"/>
<rect x="543" y="709" width="3" height="1"/>
<rect x="549" y="709" width="3" height="1"/>
<rect x="555" y="709" width="3" height="1"/>
<rect x="561" y="709" width="3" height="1"/>
<rect x="567" y="709" width="3" height="1"/>
<rect x="573" y="709" width="3" height="1"/>
<rect x="579" y="709" width="3" height="1"/>
<rect x="585" y="709" width="3" height="1"/>
<rect x="591" y="709" width="3" height="1"/>
<rect x="597" y="709" width="3" height="1"/>
<rect x="603" y="709" width="3" height="1"/>
<rect x="609" y="709" width="3" height="1"/>
<rect x="615" y="709" width="3" height="1"/>
<rect x="621" y="709" width="3" height="1"/>
<rect x="627" y="709" width="3" height="1"/>
<rect x="633" y="709" width="3" height="1"/>
<rect x="639" y="709" width="3" height="1"/>
<rect x="645" y="709" width="3" height="1"/>
<rect x="651" y="709" width="3" height="1"/>
<rect x="657" y="709" width="3" height="1"/>
<rect x="663" y="709" width="3" height="1"/>
<rect x="669" y="709" width="3" height="1"/>
<rect x="675" y="709" width="3" height="1"/>
<rect x="681" y="709" width="3" height="1"/>
<rect x="687" y="709" width="3" height="1"/>
<rect x="693" y="709" width="3" height="1"/>
<rect x="699" y="709" width="3" height="1"/>
<rect x="705" y="709" width="3" height="1"/>
<rect x="711" y="709" width="3" height="1"/>
<rect x="717" y="709" width="3" height="1"/>
<rect x="723" y="709" width="3" height="1"/>
<rect x="729" y="709" width="3" height="1"/>
<rect x="735" y="709" width="3" height="1"/>
<rect x="741" y="709" width="3" height="1"/>
<rect x="747" y="709" width="3" height="1"/>
<rect x="753" y="709" width="3" height="1"/>
<rect x="759" y="709" width="3" height="1"/>
<rect x="765" y="709" width="3" height="1"/>
<rect x="771" y="709" width="3" height="1"/>
<rect x="777" y="709" width="3" height="1"/>
<rect x="783" y="709" width="3" height="1"/>
<rect x="789" y="709" width="3" height="1"/>
<rect x="795" y="709" width="3" height="1"/>
<rect x="801" y="709" width="3" height="1"/>
<rect x="807" y="709" width="3" height="1"/>
<rect x="813" y="709" width="3" height="1"/>
<rect x="819" y="709" width="3" height="1"/>
<rect x="825" y="709" width="3" height="1"/>
<rect x="831" y="709" width="3" height="1"/>
<rect x="837" y="709" width="3" height="1"/>
<rect x="843" y="709" width="3" height="1"/>
<rect x="849" y="709" width="3" height="1"/>
<rect x="855" y="709" width="3" height="1"/>
<rect x="861" y="709" width="3" height="1"/>
<rect x="867" y="709" width="3" height="1"/>
<rect x="873" y="709" width="3" height="1"/>
<rect x="879" y="709" width="3" height="1"/>
<rect x="885" y="709" width="3" height="1"/>
<rect x="891" y="709" width="3" height="1"/>
<rect x="897" y="709" width="3" height="1"/>
<rect x="903" y="709" width="3" height="1"/>
<rect x="909" y="709" width="3" height="1"/>
<rect x="915" y="709" width="3" height="1"/>
<rect x="921" y="709" width="3" height="1"/>
<rect x="927" y="709" width="3" height="1"/>
<rect x="933" y="709" width="3" height="1"/>
<rect x="939" y="709" width="3" height="1"/>
<rect x="945" y="709" width="3" height="1"/>
<rect x="951" y="709" width="3" height="1"/>
<rect x="957" y="709" width="3" height="1"/>
<rect x="963" y="709" width="3" height="1"/>
<rect x="969" y="709" width="3" height="1"/>
<rect x="975" y="709" width="3" height="1"/>
<rect x="981" y="709" width="3" height="1"/>
<rect x="987" y="709" width="3" height="1"/>
<rect x="993" y="709" width="3" height="1"/>
<rect x="999" y="709" width="3" height="1"/>
<rect x="1005" y="709" width="3" height="1"/>
<rect x="1011" y="709" width="3" height="1"/>
<rect x="1017" y="709" width="3" height="1"/>
<rect x="1023" y="709" width="3" height="1"/>
<rect x="1029" y="709" width="3" height="1"/>
<rect x="1035" y="709" width="3" height="1"/>
<rect x="1041" y="709" width="3" height="1"/>
<rect x="1047" y="709" width="3" height="1"/>
<rect x="1053" y="709" width="3" height="1"/>
<rect x="1059" y="709" width="3" height="1"/>
<rect x="1065" y="709" width="3" height="1"/>
<rect x="1071" y="709" width="3" height="1"/>
<rect x="1077" y="709" width="3" height="1"/>
<rect x="1083" y="709" width="3" height="1"/>
<rect x="1089" y="709" width="3" height="1"/>
<rect x="1095" y="709" width="3" height="1"/>
<rect x="1101" y="709" width="3" height="1"/>
<rect x="1107" y="709" width="3" height="1"/>
<rect x="1113" y="709" width="3" height="1"/>
<rect x="1119" y="709" width="3" height="1"/>
<rect x="1125" y="709" width="3" height="1"/>
<rect x="1131" y="709" width="3" height="1"/>
<rect x="1137" y="709" width="3" height="1"/>
<rect x="1143" y="709" width="3" height="1"/>
<rect x="1149" y="709" width="3" height="1"/>
<rect x="1155" y="709" width="3" height="1"/>
<rect x="1161" y="709" width="3" height="1"/>
<rect x="1167" y="709" width="3" height="1"/>
<rect x="1173" y="709" width="3" height="1"/>
<rect x="1179" y="709" width="3" height="1"/>
<rect x="1185" y="709" width="3" height="1"/>
<rect x="1191" y="709" width="3" height="1"/>
<rect x="1197" y="709" width="3" height="1"/>
<rect x="1203" y="709" width="3" height="1"/>
<rect x="1209" y="709" width="3" height="1"/>
<rect x="1215" y="709" width="3" height="1"/>
<rect x="1221" y="709" width="3" height="1"/>
<rect x="1227" y="709" width="3" height="1"/>
<rect x="1233" y="709" width="3" height="1"/>
<rect x="1239" y="709" width="3" height="1"/>
<rect x="1245" y="709" width="3" height="1"/>
<rect x="1251" y="709" width="3" height="1"/>
<rect x="1257" y="709" width="3" height="1"/>
<rect x="1263" y="709" width="3" height="1"/>
<rect x="1269" y="709" width="3" height="1"/>
<rect x="1275" y="709" width="3" height="1"/>
<rect x="1281" y="709" width="3" height="1"/>
<rect x="1287" y="709" width="3" height="1"/>
<rect x="1293" y="709" width="3" height="1"/>
<rect x="1299" y="709" width="3" height="1"/>
<rect x="1305" y="709" width="3" height="1"/>
<rect x="1311" y="709" width="3" height="1"/>
<rect x="1317" y="709" width="3" height="1"/>
<rect x="1323" y="709" width="3" height="1"/>
<rect x="1329" y="709" width="3" height="1"/>
<rect x="1335" y="709" width="3" height="1"/>
<rect x="1341" y="709" width="3" height="1"/>
<rect x="1347" y="709" width="3" height="1"/>
<rect x="1353" y="709" width="3" height="1"/>
<rect x="1359" y="709" width="3" height="1"/>
<rect x="1365" y="709" width="3" height="1"/>
<rect x="1371" y="709" width="3" height="1"/>
<rect x="1377" y="709" width="3" height="1"/>
<rect x="1383" y="709" width="3" height="1"/>
<rect x="1389" y="709" width="3" height="1"/>
<rect x="1395" y="709" width="3" height="1"/>
<rect x="1401" y="709" width="3" height="1"/>
<rect x="1407" y="709" width="3" height="1"/>
<rect x="1413" y="709" width="3" height="1"/>
<rect x="3" y="760" width="3" height="1"/>
<rect x="9" y="760" width="3" height="1"/>
<rect x="15" y="760" width="3" height="1"/>
<rect x="21" y="760" width="3" height="1"/>
<rect x="27" y="760" width="3" height="1"/>
<rect x="33" y="760" width="3" height="1"/>
<rect x="39" y="760" width="3" height="1"/>
<rect x="45" y="760" width="3" height="1"/>
<rect x="51" y="760" width="3" height="1"/>
<rect x="57" y="760" width="3" height="1"/>
<rect x="63" y="760" width="3" height="1"/>
<rect x="69" y="760" width="3" height="1"/>
<rect x="75" y="760" width="3" height="1"/>
<rect x="81" y="760" width="3" height="1"/>
<rect x="87" y="760" width="3" height="1"/>
<rect x="93" y="760" width="3" height="1"/>
<rect x="99" y="760" width="3" height="1"/>
<rect x="105" y="760" width="3" height="1"/>
<rect x="111" y="760" width="3" height="1"/>
<rect x="117" y="760" width="3" height="1"/>
<rect x="123" y="760" width="3" height="1"/>
<rect x="129" y="760" width="3" height="1"/>
<rect x="135" y="760" width="3" height="1"/>
<rect x="141" y="760" width="3" height="1"/>
<rect x="147" y="760" width="3" height="1"/>
<rect x="153" y="760" width="3" height="1"/>
<rect x="159" y="760" width="3" height="1"/>
<rect x="165" y="760" width="3" height="1"/>
<rect x="171" y="760" width="3" height="1"/>
<rect x="177" y="760" width="3" height="1"/>
<rect x="183" y="760" width="3" height="1"/>
<rect x="189" y="760" width="3" height="1"/>
<rect x="195" y="760" width="3" height="1"/>
<rect x="201" y="760" width="3" height="1"/>
<rect x="207" y="760" width="3" height="1"/>
<rect x="213" y="760" width="3" height="1"/>
<rect x="219" y="760" width="3" height="1"/>
<rect x="225" y="760" width="3" height="1"/>
<rect x="231" y="760" width="3" height="1"/>
<rect x="237" y="760" width="3" height="1"/>
<rect x="243" y="760" width="3" height="1"/>
<rect x="249" y="760" width="3" height="1"/>
<rect x="255" y="760" width="3" height="1"/>
<rect x="261" y="760" width="3" height="1"/>
<rect x="267" y="760" width="3" height="1"/>
<rect x="273" y="760" width="3" height="1"/>
<rect x="279" y="760" width="3" height="1"/>
<rect x="285" y="760" width="3" height="1"/>
<rect x="291" y="760" width="3" height="1"/>
<rect x="297" y="760" width="3" height="1"/>
<rect x="303" y="760" width="3" height="1"/>
<rect x="309" y="760" width="3" height="1"/>
<rect x="315" y="760" width="3" height="1"/>
<rect x="321" y="760" width="3" height="1"/>
<rect x="327" y="760" width="3" height="1"/>
<rect x="333" y="760" width="3" height="1"/>
<rect x="339" y="760" width="3" height="1"/>
<rect x="345" y="760" width="3" height="1"/>
<rect x="351" y="760" width="3" height="1"/>
<rect x="357" y="760" width="3" height="1"/>
<rect x="363" y="760" width="3" height="1"/>
<rect x="369" y="760" width="3" height="1"/>
<rect x="375" y="760" width="3" height="1"/>
<rect x="381" y="760" width="3" height="1"/>
<rect x="387" y="760" width="3" height="1"/>
<rect x="393" y="760" width="3" height="1"/>
<rect x="399" y="760" width="3" height="1"/>
<rect x="405" y="760" width="3" height="1"/>
<rect x="411" y="760" width="3" height="1"/>
<rect x="417" y="760" width="3" height="1"/>
<rect x="423" y="760" width="3" height="1"/>
<rect x="429" y="760" width="3" height="1"/>
<rect x="435" y="760" width="3" height="1"/>
<rect x="441" y="760" width="3" height="1"/>
<rect x="447" y="760" width="3" height="1"/>
<rect x="453" y="760" width="3" height="1"/>
<rect x="459" y="760" width="3" height="1"/>
<rect x="465" y="760" width="3" height="1"/>
<rect x="471" y="760" width="3" height="1"/>
<rect x="477" y="760" width="3" height="1"/>
<rect x="483" y="760" width="3" height="1"/>
<rect x="489" y="760" width="3" height="1"/>
<rect x="495" y="760" width="3" height="1"/>
<rect x="501" y="760" width="3" height="1"/>
<rect x="507" y="760" width="3" height="1"/>
<rect x="513" y="760" width="3" height="1"/>
<rect x="519" y="760" width="3" height="1"/>
<rect x="525" y="760" width="3" height="1"/>
<rect x="531" y="760" width="3" height="1"/>
<rect x="537" y="760" width="3" height="1"/>
<rect x="543" y="760" width="3" height="1"/>
<rect x="549" y="760" width="3" height="1"/>
<rect x="555" y="760" width="3" height="1"/>
<rect x="561" y="760" width="3" height="1"/>
<rect x="567" y="760" width="3" height="1"/>
<rect x="573" y="760" width="3" height="1"/>
<rect x="579" y="760" width="3" height="1"/>
<rect x="585" y="760" width="3" height="1"/>
<rect x="591" y="760" width="3" height="1"/>
<rect x="597" y="760" width="3" height="1"/>
<rect x="603" y="760" width="3" height="1"/>
<rect x="609" y="760" width="3" height="1"/>
<rect x="615" y="760" width="3" height="1"/>
<rect x="621" y="760" width="3" height="1"/>
<rect x="627" y="760" width="3" height="1"/>
<rect x="633" y="760" width="3" height="1"/>
<rect x="639" y="760" width="3" height="1"/>
<rect x="645" y="760" width="3" height="1"/>
<rect x="651" y="760" width="3" height="1"/>
<rect x="657" y="760" width="3" height="1"/>
<rect x="663" y="760" width="3" height="1"/>
<rect x="669" y="760" width="3" height="1"/>
<rect x="675" y="760" width="3" height="1"/>
<rect x="681" y="760" width="3" height="1"/>
<rect x="687" y="760" width="3" height="1"/>
<rect x="693" y="760" width="3" height="1"/>
<rect x="699" y="760" width="3" height="1"/>
<rect x="705" y="760" width="3" height="1"/>
<rect x="711" y="760" width="3" height="1"/>
<rect x="717" y="760" width="3" height="1"/>
<rect x="723" y="760" width="3" height="1"/>
<rect x="729" y="760" width="3" height="1"/>
<rect x="735" y="760" width="3" height="1"/>
<rect x="741" y="760" width="3" height="1"/>
<rect x="747" y="760" width="3" height="1"/>
<rect x="753" y="760" width="3" height="1"/>
<rect x="759" y="760" width="3" height="1"/>
<rect x="765" y="760" width="3" height="1"/>
<rect x="771" y="760" width="3" height="1"/>
<rect x="777" y="760" width="3" height="1"/>
<rect x="783" y="760" width="3" height="1"/>
<rect x="789" y="760" width="3" height="1"/>
<rect x="795" y="760" width="3" height="1"/>
<rect x="801" y="760" width="3" height="1"/>
<rect x="807" y="760" width="3" height="1"/>
<rect x="813" y="760" width="3" height="1"/>
<rect x="819" y="760" width="3" height="1"/>
<rect x="825" y="760" width="3" height="1"/>
<rect x="831" y="760" width="3" height="1"/>
<rect x="837" y="760" width="3" height="1"/>
<rect x="843" y="760" width="3" height="1"/>
<rect x="849" y="760" width="3" height="1"/>
<rect x="855" y="760" width="3" height="1"/>
<rect x="861" y="760" width="3" height="1"/>
<rect x="867" y="760" width="3" height="1"/>
<rect x="873" y="760" width="3" height="1"/>
<rect x="879" y="760" width="3" height="1"/>
<rect x="885" y="760" width="3" height="1"/>
<rect x="891" y="760" width="3" height="1"/>
<rect x="897" y="760" width="3" height="1"/>
<rect x="903" y="760" width="3" height="1"/>
<rect x="909" y="760" width="3" height="1"/>
<rect x="915" y="760" width="3" height="1"/>
<rect x="921" y="760" width="3" height="1"/>
<rect x="927" y="760" width="3" height="1"/>
<rect x="933" y="760" width="3" height="1"/>
<rect x="939" y="760" width="3" height="1"/>
<rect x="945" y="760" width="3" height="1"/>
<rect x="951" y="760" width="3" height="1"/>
<rect x="957" y="760" width="3" height="1"/>
<rect x="963" y="760" width="3" height="1"/>
<rect x="969" y="760" width="3" height="1"/>
<rect x="975" y="760" width="3" height="1"/>
<rect x="981" y="760" width="3" height="1"/>
<rect x="987" y="760" width="3" height="1"/>
<rect x="993" y="760" width="3" height="1"/>
<rect x="999" y="760" width="3" height="1"/>
<rect x="1005" y="760" width="3" height="1"/>
<rect x="1011" y="760" width="3" height="1"/>
<rect x="1017" y="760" width="3" height="1"/>
<rect x="1023" y="760" width="3" height="1"/>
<rect x="1029" y="760" width="3" height="1"/>
<rect x="1035" y="760" width="3" height="1"/>
<rect x="1041" y="760" width="3" height="1"/>
<rect x="1047" y="760" width="3" height="1"/>
<rect x="1053" y="760" width="3" height="1"/>
<rect x="1059" y="760" width="3" height="1"/>
<rect x="1065" y="760" width="3" height="1"/>
<rect x="1071" y="760" width="3" height="1"/>
<rect x="1077" y="760" width="3" height="1"/>
<rect x="1083" y="760" width="3" height="1"/>
<rect x="1089" y="760" width="3" height="1"/>
<rect x="1095" y="760" width="3" height="1"/>
<rect x="1101" y="760" width="3" height="1"/>
<rect x="1107" y="760" width="3" height="1"/>
<rect x="1113" y="760" width="3" height="1"/>
<rect x="1119" y="760" width="3" height="1"/>
<rect x="1125" y="760" width="3" height="1"/>
<rect x="1131" y="760" width="3" height="1"/>
<rect x="1137" y="760" width="3" height="1"/>
<rect x="1143" y="760" width="3" height="1"/>
<rect x="1149" y="760" width="3" height="1"/>
<rect x="1155" y="760" width="3" height="1"/>
<rect x="1161" y="760" width="3" height="1"/>
<rect x="1167" y="760" width="3" height="1"/>
<rect x="1173" y="760" width="3" height="1"/>
<rect x="1179" y="760" width="3" height="1"/>
<rect x="1185" y="760" width="3" height="1"/>
<rect x="1191" y="760" width="3" height="1"/>
<rect x="1197" y="760" width="3" height="1"/>
<rect x="1203" y="760" width="3" height="1"/>
<rect x="1209" y="760" width="3" height="1"/>
<rect x="1215" y="760" width="3" height="1"/>
<rect x="1221" y="760" width="3" height="1"/>
<rect x="1227" y="760" width="3" height="1"/>
<rect x="1233" y="760" width="3" height="1"/>
<rect x="1239" y="760" width="3" height="1"/>
<rect x="1245" y="760" width="3" height="1"/>
<rect x="1251" y="760" width="3" height="1"/>
<rect x="1257" y="760" width="3" height="1"/>
<rect x="1263" y="760" width="3" height="1"/>
<rect x="1269" y="760" width="3" height="1"/>
<rect x="1275" y="760" width="3" height="1"/>
<rect x="1281" y="760" width="3" height="1"/>
<rect x="1287" y="760" width="3" height="1"/>
<rect x="1293" y="760" width="3" height="1"/>
<rect x="1299" y="760" width="3" height="1"/>
<rect x="1305" y="760" width="3" height="1"/>
<rect x="1311" y="760" width="3" height="1"/>
<rect x="1317" y="760" width="3" height="1"/>
<rect x="1323" y="760" width="3" height="1"/>
<rect x="1329" y="760" width="3" height="1"/>
<rect x="1335" y="760" width="3" height="1"/>
<rect x="1341" y="760" width="3" height="1"/>
<rect x="1347" y="760" width="3" height="1"/>
<rect x="1353" y="760" width="3" height="1"/>
<rect x="1359" y="760" width="3" height="1"/>
<rect x="1365" y="760" width="3" height="1"/>
<rect x="1371" y="760" width="3" height="1"/>
<rect x="1377" y="760" width="3" height="1"/>
<rect x="1383" y="760" width="3" height="1"/>
<rect x="1389" y="760" width="3" height="1"/>
<rect x="1395" y="760" width="3" height="1"/>
<rect x="1401" y="760" width="3" height="1"/>
<rect x="1407" y="760" width="3" height="1"/>
<rect x="1413" y="760" width="3" height="1"/>
</g>
<svg x="2" y="670" width="1415" height="129" viewBox="2 670 1415 129" overflow="hidden">
<polyline points="2.5,747.3 18.5,743.4 34.5,736.6 50.5,736.8 66.5,737.3 82.5,744.1 98.5,746.2 114.5,738.2 130.5,741.4 146.5,738.4 162.5,739.3 178.5,750 194.5,740.4 210.5,734.5 226.5,738.2 242.5,735.5 258.5,730.4 274.5,730.4 290.5,736.6 306.5,736.6 322.5,734.5 338.5,739.3 354.5,738.4 370.5,741.4 386.5,736.6 402.5,736.6 418.5,736.3 434.5,732.2 450.5,741.4 466.5,742.1 482.5,737.3 498.5,751.4 514.5,739.3 530.5,735.5 546.5,730.8 562.5,727.7 578.5,723.3 594.5,727.4 610.5,727.5 626.5,727.5 642.5,731.4 658.5,724.5 674.5,729.3 690.5,713.6 706.5,711.5 722.5,709.5 738.5,702.3 754.5,701.2 770.5,692.6 786.5,697.4 802.5,697.4 818.5,694.4 834.5,693.4 850.5,698.5 866.5,701.2 882.5,699.5 898.5,704 914.5,710.4 930.5,712.5 946.5,710.4 962.5,708.4 978.5,706.3 994.5,708.6 1010.5,716.3 1026.5,715.3 1042.5,713.3 1058.5,713.3 1074.5,709.5 1090.5,709.2 1106.5,720.4 1122.5,719.5 1138.5,718.4 1154.5,717.3 1170.5,719.5 1186.5,719.5" fill="none" stroke="#1e90ff" stroke-width="1" shape-rendering="crispEdges"/>
</svg>
<polygon points="2,793 2,799 8,799" fill="#c0c0c0"/>
<g shape-rendering="crispEdges" fill="#000"><rect x="1418" y="671" width="1" height="1"/><rect x="1418" y="709" width="2" height="1"/><rect x="1418" y="760" width="2" height="1"/><rect x="1418" y="798" width="1" height="1"/></g>
<text x="1421" y="680" font-size="9.6" fill="#000" font-weight="normal" text-anchor="start" textLength="17" lengthAdjust="spacingAndGlyphs" stroke="#000" stroke-width="0.12">100</text>
<text x="1421" y="714" font-size="9.6" fill="#000" font-weight="normal" text-anchor="start" textLength="11" lengthAdjust="spacingAndGlyphs" stroke="#000" stroke-width="0.12">70</text>
<text x="1421" y="765" font-size="9.6" fill="#000" font-weight="normal" text-anchor="start" textLength="11" lengthAdjust="spacingAndGlyphs" stroke="#000" stroke-width="0.12">30</text>
<text x="1421" y="796" font-size="9.6" fill="#000" font-weight="normal" text-anchor="start" textLength="6" lengthAdjust="spacingAndGlyphs" stroke="#000" stroke-width="0.12">0</text>
<g shape-rendering="crispEdges" fill="#000">
<rect x="2" y="800" width="1" height="3"/>
<rect x="66" y="800" width="1" height="3"/>
<rect x="130" y="800" width="1" height="3"/>
<rect x="194" y="800" width="1" height="3"/>
<rect x="258" y="800" width="1" height="3"/>
<rect x="322" y="800" width="1" height="3"/>
<rect x="386" y="800" width="1" height="3"/>
<rect x="450" y="800" width="1" height="3"/>
<rect x="514" y="800" width="1" height="3"/>
<rect x="578" y="800" width="1" height="3"/>
<rect x="642" y="800" width="1" height="3"/>
<rect x="706" y="800" width="1" height="3"/>
<rect x="770" y="800" width="1" height="3"/>
<rect x="834" y="800" width="1" height="3"/>
<rect x="898" y="800" width="1" height="3"/>
<rect x="962" y="800" width="1" height="3"/>
<rect x="1026" y="800" width="1" height="3"/>
<rect x="1090" y="800" width="1" height="3"/>
<rect x="1154" y="800" width="1" height="3"/>
</g>
<text x="1.4" y="812" font-size="9.6" fill="#000" font-weight="normal" text-anchor="start" textLength="46.6" lengthAdjust="spacingAndGlyphs" stroke="#000" stroke-width="0.12">5 Mar 2019</text>
<text x="65.8" y="812" font-size="9.6" fill="#000" font-weight="normal" text-anchor="start" textLength="50.7" lengthAdjust="spacingAndGlyphs" stroke="#000" stroke-width="0.12">11 Mar 2019</text>
<text x="129.3" y="812" font-size="9.6" fill="#000" font-weight="normal" text-anchor="start" textLength="51.5" lengthAdjust="spacingAndGlyphs" stroke="#000" stroke-width="0.12">15 Mar 2019</text>
<text x="193.4" y="812" font-size="9.6" fill="#000" font-weight="normal" text-anchor="start" textLength="51.2" lengthAdjust="spacingAndGlyphs" stroke="#000" stroke-width="0.12">21 Mar 2019</text>
<text x="257.5" y="812" font-size="9.6" fill="#000" font-weight="normal" text-anchor="start" textLength="51.2" lengthAdjust="spacingAndGlyphs" stroke="#000" stroke-width="0.12">27 Mar 2019</text>
<text x="321.4" y="812" font-size="9.6" fill="#000" font-weight="normal" text-anchor="start" textLength="45.2" lengthAdjust="spacingAndGlyphs" stroke="#000" stroke-width="0.12">2 Apr 2019</text>
<text x="385.2" y="812" font-size="9.6" fill="#000" font-weight="normal" text-anchor="start" textLength="46" lengthAdjust="spacingAndGlyphs" stroke="#000" stroke-width="0.12">8 Apr 2019</text>
<text x="449" y="812" font-size="9.6" fill="#000" font-weight="normal" text-anchor="start" textLength="51.3" lengthAdjust="spacingAndGlyphs" stroke="#000" stroke-width="0.12">12 Apr 2019</text>
<text x="513.2" y="812" font-size="9.6" fill="#000" font-weight="normal" text-anchor="start" textLength="51" lengthAdjust="spacingAndGlyphs" stroke="#000" stroke-width="0.12">18 Apr 2019</text>
<text x="577.6" y="812" font-size="9.6" fill="#000" font-weight="normal" text-anchor="start" textLength="50.4" lengthAdjust="spacingAndGlyphs" stroke="#000" stroke-width="0.12">25 Apr 2019</text>
<text x="641.8" y="812" font-size="9.6" fill="#000" font-weight="normal" text-anchor="start" textLength="49" lengthAdjust="spacingAndGlyphs" stroke="#000" stroke-width="0.12">1 May 2019</text>
<text x="705.7" y="812" font-size="9.6" fill="#000" font-weight="normal" text-anchor="start" textLength="49.2" lengthAdjust="spacingAndGlyphs" stroke="#000" stroke-width="0.12">7 May 2019</text>
<text x="769.7" y="812" font-size="9.6" fill="#000" font-weight="normal" text-anchor="start" textLength="54" lengthAdjust="spacingAndGlyphs" stroke="#000" stroke-width="0.12">13 May 2019</text>
<text x="833.7" y="812" font-size="9.6" fill="#000" font-weight="normal" text-anchor="start" textLength="54" lengthAdjust="spacingAndGlyphs" stroke="#000" stroke-width="0.12">17 May 2019</text>
<text x="897.8" y="812" font-size="9.6" fill="#000" font-weight="normal" text-anchor="start" textLength="53.8" lengthAdjust="spacingAndGlyphs" stroke="#000" stroke-width="0.12">23 May 2019</text>
<text x="961.7" y="812" font-size="9.6" fill="#000" font-weight="normal" text-anchor="start" textLength="54" lengthAdjust="spacingAndGlyphs" stroke="#000" stroke-width="0.12">29 May 2019</text>
<text x="1025.8" y="812" font-size="9.6" fill="#000" font-weight="normal" text-anchor="start" textLength="43.8" lengthAdjust="spacingAndGlyphs" stroke="#000" stroke-width="0.12">4 Jun 2019</text>
<text x="1089.7" y="812" font-size="9.6" fill="#000" font-weight="normal" text-anchor="start" textLength="49" lengthAdjust="spacingAndGlyphs" stroke="#000" stroke-width="0.12">10 Jun 2019</text>
<text x="1153.3" y="812" font-size="9.6" fill="#000" font-weight="normal" text-anchor="start" textLength="49" lengthAdjust="spacingAndGlyphs" stroke="#000" stroke-width="0.12">14 Jun 2019</text>
<g shape-rendering="crispEdges">
<rect x="0" y="820" width="1460" height="1" fill="#e3e3e3"/>
<rect x="0" y="822" width="1460" height="1" fill="#000"/>
<rect x="0" y="823" width="1460" height="1" fill="#fff"/>
<rect x="0" y="824" width="1460" height="17" fill="#f0f0f0"/>
<rect x="436" y="821" width="110" height="19" fill="#fff"/>
<rect x="435" y="822" width="1" height="19" fill="#000"/>
<rect x="546" y="822" width="1" height="19" fill="#000"/>
<rect x="435" y="840" width="112" height="1" fill="#000"/>
<rect x="111" y="826" width="1" height="13" fill="#666"/>
<rect x="219" y="826" width="1" height="13" fill="#666"/>
<rect x="327" y="826" width="1" height="13" fill="#666"/>
<rect x="667" y="826" width="1" height="13" fill="#666"/>
</g>
<text x="14.3" y="837" font-size="12" fill="#606060" font-weight="normal" text-anchor="start" textLength="84.8" lengthAdjust="spacingAndGlyphs">EURUSD-,Daily</text>
<text x="120.8" y="837" font-size="12" fill="#606060" font-weight="normal" text-anchor="start" textLength="87.5" lengthAdjust="spacingAndGlyphs">AUDUSD-,Daily</text>
<text x="231" y="837" font-size="12" fill="#606060" font-weight="normal" text-anchor="start" textLength="84.1" lengthAdjust="spacingAndGlyphs">USDCHF-,Daily</text>
<text x="338.5" y="837" font-size="12" fill="#606060" font-weight="normal" text-anchor="start" textLength="85.3" lengthAdjust="spacingAndGlyphs">USDCAD-,Daily</text>
<text x="447.5" y="837" font-size="12" fill="#000" font-weight="normal" text-anchor="start" textLength="87.5" lengthAdjust="spacingAndGlyphs">USDCNH-,Daily</text>
<text x="558.5" y="837" font-size="12" fill="#606060" font-weight="normal" text-anchor="start" textLength="96" lengthAdjust="spacingAndGlyphs">EURCHF-,Weekly</text>
<polygon points="1433,831 1436,828 1436,834" fill="#888"/>
<polygon points="1452,828 1455,831 1452,834" fill="#888"/>
</svg></body></html>
